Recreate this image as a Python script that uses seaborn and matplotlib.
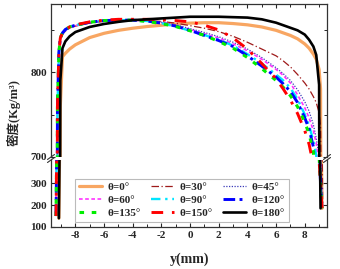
import numpy as np
import pandas as pd
import matplotlib
matplotlib.use("Agg")
import matplotlib.pyplot as plt
import seaborn as sns

# ---------------- data ----------------
nan = np.nan
y_mm = [-9.35, -9.25, -9.15, -9.05, -8.9, -8.7, -8.4, -8.0, -7.0, -6.0, -5.0,
        -4.0, -3.0, -2.0, -1.0, 0.0, 1.0, 2.0, 3.0, 4.0, 5.0, 6.0, 6.5, 7.0,
        7.5, 8.0, 8.3, 8.6, 8.8, 9.0, 9.1, 9.2, 9.25]

theta_labels = ["θ=0°", "θ=30°", "θ=45°", "θ=60°", "θ=90°",
                "θ=120°", "θ=135°", "θ=150°", "θ=180°"]

rho_0 = [nan, nan, 140, 760, 818, 822, 827, 832, 840.5, 845.5, 849,
         851.5, 853.5, 855, 856.5, 857.5, 858, 858, 857, 855.5, 853, 849, 846, 843,
         839, 833, 828, 821, 815, 803, 780, 185, nan]
rho_30 = [150, 760, 821, 838, 844, 848, 851.5, 854, 857.5, 859.5, 860.5,
          861, 860.5, 859.5, 857.5, 854.5, 851.5, 847.5, 842, 835, 827, 819, 813, 806,
          797, 787, 780, 771, 764, 752, 736, 600, 185]
rho_45 = [150, 760, 822, 839, 845, 849, 852, 854.5, 858, 860, 861,
          861, 860, 858.5, 855.5, 851, 846.5, 841.5, 835, 827, 817, 805, 798, 790,
          779, 765, 754, 738, 722, 700, 500, 185, nan]
rho_60 = [150, 760, 822, 839, 845, 849, 852, 854.5, 858, 860, 861,
          861, 860, 858, 854.5, 850, 845, 840, 833, 825, 815, 803, 796, 787,
          773, 758, 746, 731, 716, 690, 400, 185, nan]
rho_90 = [150, 760, 823, 840, 846, 850, 853, 855, 858.5, 860.5, 861,
          861, 860, 857.5, 853.5, 848.5, 843.5, 838, 831, 821, 810, 797, 790, 781,
          768, 750, 737, 719, 702, 550, 300, 185, nan]
rho_120 = [150, 760, 823, 840, 846, 850, 853, 855, 858.5, 860.5, 861,
           861, 860, 857.5, 854, 849, 843, 837, 830, 819, 807, 794, 786, 777,
           764, 746, 733, 712, 660, 450, 300, 185, nan]
rho_135 = [150, 760, 823, 840, 846, 850, 853, 855, 858.5, 860.5, 861,
           861, 859.5, 857, 853.5, 848.5, 843, 836, 828, 817, 804, 790, 782, 772,
           759, 741, 727, 706, 640, 420, 300, 185, nan]
rho_150 = [150, 760, 823, 840, 846, 850, 853, 855.5, 859, 861, 862,
           862, 862, 861.5, 860.5, 859, 855, 849.5, 840, 827, 810, 792, 780, 767,
           751, 731, 715, 691, 560, 400, 300, 185, nan]
rho_180 = [nan, nan, 140, 790, 828, 836, 842, 847, 853, 856.5, 859,
           861, 862, 863, 864, 865, 865, 865, 864.5, 864, 862, 858, 855, 852,
           849, 844, 838, 830, 820, 785, 185, nan, nan]

series = [rho_0, rho_30, rho_45, rho_60, rho_90, rho_120, rho_135, rho_150, rho_180]

# ---------------- styles ----------------
colors = ["#F8A662", "#9E1A1A", "#3A3AB8", "#FF33FF", "#00E5FF",
          "#0000FF", "#00EE00", "#FF0000", "#000000"]
widths = [2.3, 0.9, 0.9, 1.2, 1.7, 2.1, 2.2, 2.1, 1.9]
styles = ["-", (0, (6, 2, 1, 2)), (0, (1, 1.2)), (0, (2.2, 1.5)),
          (0, (4, 2, 1, 2)), (0, (4, 1.5, 1, 1.5)), (0, (1.5, 2.5)),
          (0, (4, 3, 1, 3)), "-"]

sns.set_theme(style="ticks")
plt.rcParams["font.family"] = ["Liberation Serif", "Noto Sans CJK SC"]
plt.rcParams["font.weight"] = "bold"
plt.rcParams["axes.labelweight"] = "bold"
plt.rcParams["xtick.direction"] = "in"
plt.rcParams["ytick.direction"] = "in"

fig = plt.figure(figsize=(3.4, 2.69), dpi=100)
W, H = 340.0, 269.0
x0, x1 = 51, 327
ax_top = fig.add_axes([x0 / W, 1 - 157 / H, (x1 - x0) / W, (157 - 4) / H])
ax_bot = fig.add_axes([x0 / W, 1 - 227 / H, (x1 - x0) / W, (227 - 160) / H])

for ax in (ax_top, ax_bot):
    for lab, vals, c, lw, ls in zip(theta_labels, series, colors, widths, styles):
        df = pd.DataFrame({"y": y_mm, "rho": vals}).dropna()
        sns.lineplot(data=df, x="y", y="rho", ax=ax, color=c, linewidth=lw,
                     linestyle=ls, label=lab, legend=False, sort=False)
    ax.set_xlim(-9.7, 9.55)
    ax.set_xlabel("")
    ax.set_ylabel("")
    for sp in ax.spines.values():
        sp.set_linewidth(0.9)
        sp.set_color("#333333")

ax_top.set_ylim(700, 880)
ax_top.set_yticks([700, 800])
ax_top.set_yticks([750, 850], minor=True)
ax_top.spines["bottom"].set_visible(False)
ax_top.tick_params(axis="x", which="both", bottom=False, labelbottom=False,
                   top=True)
ax_top.set_xticks(np.arange(-8, 9, 2))
ax_top.set_xticks(np.arange(-9, 10, 2), minor=True)
ax_top.tick_params(axis="y", which="both", left=True, right=True)

ax_bot.set_ylim(100, 405)
ax_bot.set_yticks([100, 200, 300])
ax_bot.spines["top"].set_visible(False)
ax_bot.set_xticks(np.arange(-8, 9, 2))
ax_bot.set_xticks(np.arange(-9, 10, 2), minor=True)
ax_bot.tick_params(axis="x", which="both", top=False)
ax_bot.tick_params(axis="y", which="both", left=True, right=True)

for ax in (ax_top, ax_bot):
    ax.tick_params(which="major", length=3, width=0.8, labelsize=8, pad=3)
    ax.tick_params(which="minor", length=2, width=0.7)
    for t in ax.get_xticklabels() + ax.get_yticklabels():
        t.set_fontweight("bold")

ax_bot.set_xticklabels(["-8", "-6", "-4", "-2", "0", "2", "4", "6", "8"],
                       fontweight="bold", fontsize=8)

# break marks
dx = 3.5 / (x1 - x0)
kw = dict(color="#333333", lw=0.8, clip_on=False)
for xx in (0, 1):
    ax_top.plot([xx - dx, xx + dx], [-2.5 / 153, 2.5 / 153],
                transform=ax_top.transAxes, **kw)
    ax_bot.plot([xx - dx, xx + dx], [1 - 2.5 / 67, 1 + 2.5 / 67],
                transform=ax_bot.transAxes, **kw)

# legend (row-major order as in reference)
handles = ax_top.get_lines()[:9]
order = [0, 3, 6, 1, 4, 7, 2, 5, 8]
leg = ax_bot.legend([handles[i] for i in order], [theta_labels[i] for i in order],
                    ncol=3, loc="lower left",
                    bbox_to_anchor=(75 / W, 1 - 222 / H),
                    bbox_transform=fig.transFigure, borderaxespad=0,
                    prop={"family": ["Liberation Serif"], "weight": "bold", "size": 8},
                    handlelength=2.1, handletextpad=0.5, columnspacing=0.9,
                    labelspacing=0.28, borderpad=0.35, fancybox=False,
                    framealpha=1, edgecolor="#BBBBBB")
leg.get_frame().set_linewidth(0.8)

fig.text(14 / W, 1 - 113 / H, "密度(Kg/m³)", rotation=90, ha="center",
         va="center", fontsize=9, fontweight="bold")
fig.text(190 / W, 1 - 259 / H, "y(mm)", ha="center", va="center",
         fontsize=10, fontweight="bold")

fig.savefig("out.png", dpi=100)
